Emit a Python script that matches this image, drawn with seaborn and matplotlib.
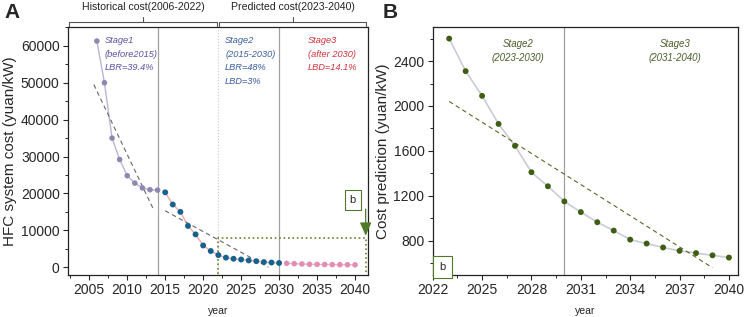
import numpy as np
import pandas as pd
import matplotlib
matplotlib.use("Agg")
import matplotlib.pyplot as plt
from matplotlib.ticker import MultipleLocator
import seaborn as sns

# historical + predicted cost, panel A (yuan/kW)
years_s1 = [2006, 2007, 2008, 2009, 2010, 2011, 2012, 2013, 2014]
cost_s1 = [61300, 50000, 35000, 29200, 24800, 22800, 21500, 21000, 20900]
years_s2 = [2015, 2016, 2017, 2018, 2019, 2020, 2021, 2022,
            2023, 2024, 2025, 2026, 2027, 2028, 2029, 2030]
cost_s2 = [20300, 17000, 15000, 11200, 8900, 5900, 4400, 3300,
           2600, 2300, 2100, 1850, 1650, 1400, 1280, 1150]
years_s3 = [2031, 2032, 2033, 2034, 2035, 2036, 2037, 2038, 2039, 2040]
cost_s3 = [1055, 965, 890, 810, 775, 740, 710, 690, 670, 650]

# trend (fit) lines
trend1_x = [2005.6, 2013.5]
trend1_y = [49500, 15500]
trend2_x = [2015, 2028.6]
trend2_y = [15300, 0]

# panel B, predicted cost
years_b = list(range(2023, 2041))
cost_b = [2600, 2310, 2090, 1840, 1645, 1410, 1285, 1150, 1055,
          965, 890, 810, 775, 740, 710, 690, 670, 650]
trendb_x = [2023, 2039]
trendb_y = [2040, 560]

df1 = pd.DataFrame({"year": years_s1, "cost": cost_s1})
df2 = pd.DataFrame({"year": years_s2, "cost": cost_s2})
df3 = pd.DataFrame({"year": years_s3, "cost": cost_s3})
dfb = pd.DataFrame({"year": years_b, "cost": cost_b})

sns.set_style("ticks")
plt.rcParams["font.family"] = ["Liberation Sans", "DejaVu Sans"]

fig = plt.figure(figsize=(7.48, 3.17), dpi=100)
axA = fig.add_axes([0.0909, 0.1325, 0.401, 0.7823])
axB = fig.add_axes([0.5785, 0.1325, 0.4081, 0.7823])

# ---------------- panel A ----------------
axA.axvline(2014, color="#a0a0a0", lw=0.9, zorder=0)
axA.axvline(2022, color="#c8c8c8", lw=0.8, ls=":", zorder=0)
axA.axvline(2030, color="#a0a0a0", lw=0.9, zorder=0)

sns.lineplot(data=df1, x="year", y="cost", ax=axA, color="#b9b5d3", lw=1.0)
sns.lineplot(data=df2, x="year", y="cost", ax=axA, color="#f2a9a9", lw=1.0)
sns.lineplot(data=df3, x="year", y="cost", ax=axA, color="#f2b6c9", lw=1.0)
sns.scatterplot(data=df1, x="year", y="cost", ax=axA, color="#8d88b2", s=16, edgecolor="none", zorder=3)
sns.scatterplot(data=df2, x="year", y="cost", ax=axA, color="#15628f", s=18, edgecolor="none", zorder=3)
sns.scatterplot(data=df3, x="year", y="cost", ax=axA, color="#e28db2", s=16, edgecolor="none", zorder=3)
axA.plot(trend1_x, trend1_y, ls=(0, (4, 3)), color="#666666", lw=0.8)
axA.plot(trend2_x, trend2_y, ls=(0, (4, 3)), color="#666666", lw=0.8)

# dotted zoom box and "b" callout
axA.plot([2022, 2022, 2041.4, 2041.4], [-1900, 8000, 8000, -1900],
         ls=":", color="#6b7d2c", lw=1.2, clip_on=False)
axA.annotate("", xy=(2041.4, 7800), xytext=(2041.4, 16500),
             arrowprops=dict(arrowstyle="-|>,head_width=0.35,head_length=0.8",
                             color="#4f7a2a", lw=0.9))
axA.text(2039.7, 18300, "b", ha="center", va="center", fontsize=8,
         bbox=dict(boxstyle="square,pad=0.45", fc="white", ec="#4f7a2a", lw=0.8))

stage_kw = dict(style="italic", fontsize=6.7, va="top", linespacing=1.65)
axA.text(2007.0, 62600, "Stage1\n(before2015)\nLBR=39.4%", color="#5d4fa3", **stage_kw)
axA.text(2022.9, 62600, "Stage2\n(2015-2030)\nLBR=48%\nLBD=3%", color="#3a5d9c", **stage_kw)
axA.text(2033.8, 62600, "Stage3\n(after 2030)\nLBD=14.1%", color="#d0303c", **stage_kw)

axA.set_xlim(2002.2, 2041.7)
axA.set_ylim(-2100, 65100)
axA.xaxis.set_major_locator(MultipleLocator(5))
axA.xaxis.set_minor_locator(MultipleLocator(2.5))
axA.yaxis.set_major_locator(MultipleLocator(10000))
axA.yaxis.set_minor_locator(MultipleLocator(5000))
axA.set_xlabel("year", fontsize=7.5, labelpad=6)
axA.set_ylabel("HFC system cost (yuan/kW)", fontsize=11, labelpad=3)

# braces above panel A
def brace(ax, x0, x1, label):
    tr = ax.transAxes
    y0, y1 = 1.003, 1.022
    xm = (x0 + x1) / 2
    ax.plot([x0, x0, x1, x1], [y0, y1, y1, y0], color="#555555", lw=0.8,
            transform=tr, clip_on=False)
    ax.plot([xm, xm], [y1, y1 + 0.018], color="#555555", lw=0.8,
            transform=tr, clip_on=False)
    ax.text(xm, y1 + 0.04, label, ha="center", va="bottom", fontsize=7.6,
            color="#222222", transform=tr)

brace(axA, 0.005, 0.497, "Historical cost(2006-2022)")
brace(axA, 0.503, 0.995, "Predicted cost(2023-2040)")

# ---------------- panel B ----------------
axB.axvline(2030, color="#a0a0a0", lw=0.9, zorder=0)
sns.lineplot(data=dfb, x="year", y="cost", ax=axB, color="#c9ccd6", lw=1.2)
sns.scatterplot(data=dfb, x="year", y="cost", ax=axB, color="#3e5e12", s=18, edgecolor="none", zorder=3)
axB.plot(trendb_x, trendb_y, ls=(0, (4, 3)), color="#5f6428", lw=0.8)

axB.text(2027.2, 2600, "Stage2\n(2023-2030)", color="#4a5e2a", style="italic",
         fontsize=7, va="top", ha="center", linespacing=1.6)
axB.text(2036.7, 2600, "Stage3\n(2031-2040)", color="#4a5e2a", style="italic",
         fontsize=7, va="top", ha="center", linespacing=1.6)
axB.text(2022.6, 565, "b", ha="center", va="center", fontsize=8,
         bbox=dict(boxstyle="square,pad=0.55", fc="white", ec="#4f7a2a", lw=0.8))

axB.set_xlim(2022, 2040.55)
axB.set_ylim(495, 2703)
axB.xaxis.set_major_locator(MultipleLocator(3))
axB.xaxis.set_minor_locator(MultipleLocator(1.5))
axB.yaxis.set_major_locator(MultipleLocator(400))
axB.yaxis.set_minor_locator(MultipleLocator(200))
axB.set_xlabel("year", fontsize=7.5, labelpad=6)
axB.set_ylabel("Cost prediction (yuan/kW)", fontsize=11, labelpad=2)

for ax in (axA, axB):
    for sp in ax.spines.values():
        sp.set_visible(True)
        sp.set_linewidth(0.9)
        sp.set_color("#222222")
    ax.tick_params(axis="both", which="major", labelsize=10, length=3.5, width=0.8, pad=2.5)
    ax.tick_params(axis="both", which="minor", length=2, width=0.7)

fig.text(0.006, 0.99, "A", fontsize=15, fontweight="bold", va="top")
fig.text(0.511, 0.99, "B", fontsize=15, fontweight="bold", va="top")

fig.savefig("out.png", dpi=100)
